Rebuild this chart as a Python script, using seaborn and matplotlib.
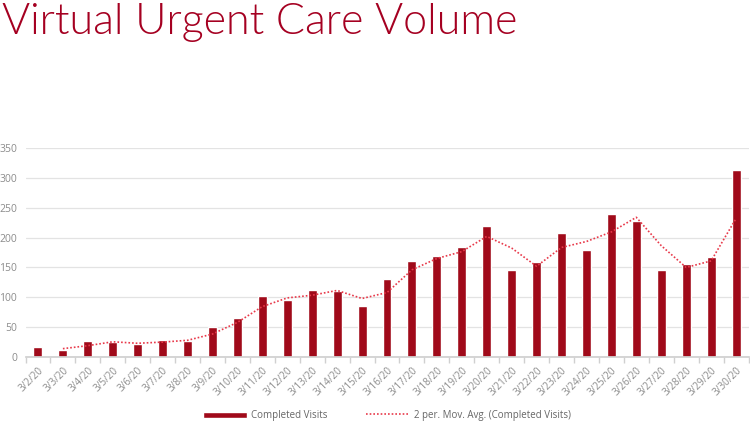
import numpy as np
import pandas as pd
import seaborn as sns
import matplotlib.pyplot as plt

# Data
dates = ["3/2/20", "3/3/20", "3/4/20", "3/5/20", "3/6/20", "3/7/20", "3/8/20",
         "3/9/20", "3/10/20", "3/11/20", "3/12/20", "3/13/20", "3/14/20",
         "3/15/20", "3/16/20", "3/17/20", "3/18/20", "3/19/20", "3/20/20",
         "3/21/20", "3/22/20", "3/23/20", "3/24/20", "3/25/20", "3/26/20",
         "3/27/20", "3/28/20", "3/29/20", "3/30/20"]
completed_visits = [16, 12, 26, 25, 21, 29, 27, 50, 66, 103, 95, 112, 111, 85,
                    131, 161, 169, 184, 220, 145, 159, 208, 179, 240, 228, 145,
                    155, 167, 313]
# 2 period moving average (starts at the second date)
mov_avg = [14, 19, 25.5, 23, 25, 28, 38.5, 58, 84.5, 99, 103.5, 111.5, 98, 108,
           146, 165, 176.5, 202, 182.5, 152, 183.5, 193.5, 209.5, 234, 186.5,
           150, 161, 232]

bar_color = "#a00a1a"
line_color = "#e8394a"
grey = "#8c8c8c"

sns.set_theme(style="white")
plt.rcParams["font.family"] = ["Open Sans", "DejaVu Sans"]

df = pd.DataFrame({"date": dates, "visits": completed_visits})
ma = pd.DataFrame({"pos": np.arange(1, len(dates)), "avg": mov_avg})

fig = plt.figure(figsize=(7.5, 4.23), dpi=100)
ax = fig.add_axes([0.034, 0.156, 0.964, 0.494])

sns.barplot(data=df, x="date", y="visits", color=bar_color, width=0.36,
            saturation=1, ax=ax, label="Completed Visits")
sns.lineplot(data=ma, x="pos", y="avg", color=line_color, linestyle=(0, (1, 1.2)),
             linewidth=1.2, ax=ax, label="2 per. Mov. Avg. (Completed Visits)")

ax.set_xlim(-0.5, len(dates) - 0.5)
ax.set_ylim(0, 350)
ax.set_yticks(range(0, 351, 50))
ax.yaxis.grid(True, color="#e3e3e3", linewidth=0.9)
ax.set_axisbelow(True)
ax.set_xlabel("")
ax.set_ylabel("")
for s in ["top", "right", "left"]:
    ax.spines[s].set_visible(False)
ax.spines["bottom"].set_color("#d0d0d0")

ax.set_xticks(np.arange(len(dates)))
ax.set_xticklabels(dates, rotation=45, ha="right", rotation_mode="anchor")
ax.set_xticks(np.arange(-0.5, len(dates), 1), minor=True)
ax.tick_params(axis="x", which="major", length=0, pad=6, labelsize=7.2, labelcolor=grey)
ax.tick_params(axis="x", which="minor", length=4, color="#d0d0d0", bottom=True)
ax.tick_params(axis="y", length=0, pad=6, labelsize=7.5, labelcolor=grey)

handles, labels = ax.get_legend_handles_labels()
order = [labels.index("Completed Visits"), labels.index("2 per. Mov. Avg. (Completed Visits)")]
leg = ax.legend([handles[i] for i in order], [labels[i] for i in order],
                loc="upper center", bbox_to_anchor=(0.5, -0.21), ncol=2, frameon=False,
                fontsize=7, handlelength=4.5, columnspacing=4, handletextpad=0.4)
for t in leg.get_texts():
    t.set_color("#666666")
for h in leg.legend_handles:
    if hasattr(h, "set_height"):
        h.set_height(4)

fig.text(0.002, 0.992, "Virtual Urgent Care Volume", color="#a50021", fontsize=31,
         family=["Lato", "DejaVu Sans"], fontweight=300, va="top", ha="left")

fig.savefig("out.png", dpi=100)
